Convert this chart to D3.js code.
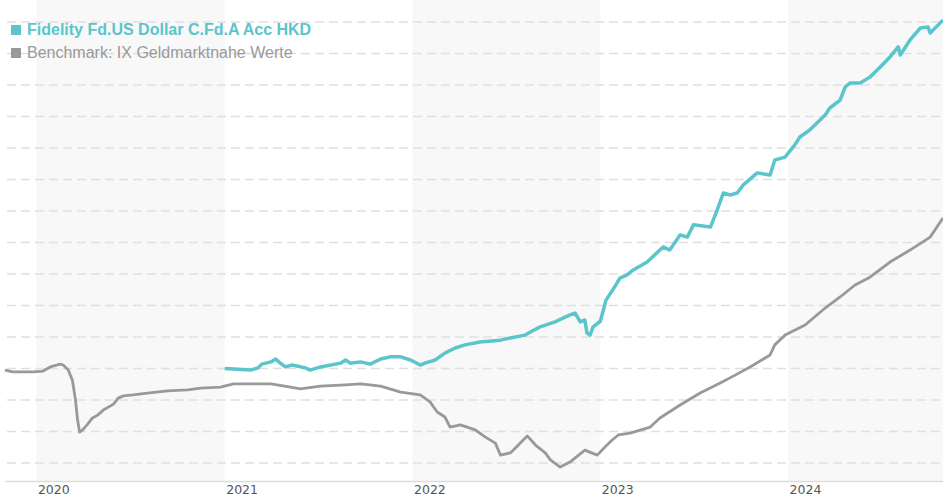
<!DOCTYPE html>
<html>
<head>
<meta charset="utf-8">
<script src="https://cdn.jsdelivr.net/npm/d3@7"></script>
<style>
  body { margin: 0; background: #fff; }
  svg { display: block; font-family: "Liberation Sans", Arial, sans-serif; }
</style>
</head>
<body>
<svg id="chart" width="943" height="500"></svg>
<script>
// series names
const fundName = "Fidelity Fd.US Dollar C.Fd.A Acc HKD";
const benchName = "Benchmark: IX Geldmarktnahe Werte";

// fund performance (grid units)
const fundDates = ["2021-01-01","2021-02-20","2021-03-07","2021-03-14","2021-04-01","2021-04-10","2021-04-19","2021-04-29","2021-05-12","2021-06-07","2021-06-16","2021-07-06","2021-08-14","2021-08-24","2021-09-02","2021-09-22","2021-10-11","2021-10-31","2021-11-19","2021-12-09","2021-12-28","2022-01-16","2022-01-25","2022-02-14","2022-03-05","2022-03-25","2022-04-13","2022-05-12","2022-06-21","2022-07-10","2022-08-08","2022-08-18","2022-09-06","2022-10-05","2022-11-03","2022-11-13","2022-11-23","2022-12-02","2022-12-06","2022-12-12","2022-12-18","2023-01-01","2023-01-12","2023-01-25","2023-02-08","2023-02-22","2023-03-06","2023-04-02","2023-05-03","2023-05-16","2023-06-05","2023-06-19","2023-07-01","2023-08-03","2023-08-16","2023-08-28","2023-09-10","2023-09-24","2023-10-06","2023-11-02","2023-11-27","2023-12-06","2023-12-26","2024-01-14","2024-01-24","2024-02-12","2024-03-13","2024-03-22","2024-04-11","2024-04-21","2024-04-30","2024-05-20","2024-06-08","2024-06-28","2024-07-17","2024-08-02","2024-08-06","2024-08-25","2024-09-14","2024-09-29","2024-10-03","2024-10-28"];
const fundValues = [0.00,-0.05,0.02,0.14,0.21,0.30,0.17,0.05,0.11,0.02,-0.05,0.05,0.17,0.27,0.17,0.21,0.14,0.30,0.37,0.37,0.27,0.11,0.17,0.27,0.49,0.65,0.75,0.84,0.90,0.97,1.06,1.16,1.32,1.48,1.70,1.76,1.48,1.54,1.13,1.06,1.32,1.50,2.17,2.49,2.87,2.97,3.13,3.38,3.86,3.76,4.24,4.17,4.56,4.49,5.03,5.57,5.51,5.57,5.83,6.21,6.14,6.62,6.71,7.10,7.35,7.57,8.05,8.27,8.52,8.94,9.06,9.06,9.25,9.57,9.89,10.21,9.95,10.43,10.81,10.84,10.65,11.06];

// benchmark performance
const benchDates = ["2019-11-01","2019-11-16","2019-12-26","2020-01-14","2020-01-28","2020-02-16","2020-02-22","2020-03-03","2020-03-11","2020-03-17","2020-03-21","2020-03-25","2020-03-31","2020-04-10","2020-04-19","2020-04-29","2020-05-10","2020-05-30","2020-06-08","2020-06-18","2020-07-07","2020-08-04","2020-09-12","2020-10-21","2020-11-15","2020-12-24","2021-01-18","2021-02-20","2021-04-01","2021-05-09","2021-05-28","2021-07-06","2021-08-24","2021-09-22","2021-10-31","2021-12-09","2022-01-16","2022-02-04","2022-02-18","2022-03-05","2022-03-15","2022-04-04","2022-05-03","2022-05-22","2022-06-11","2022-06-21","2022-07-10","2022-07-20","2022-07-29","2022-08-12","2022-08-28","2022-09-16","2022-09-26","2022-10-15","2022-11-03","2022-12-02","2022-12-26","2023-01-10","2023-01-24","2023-02-05","2023-02-28","2023-04-08","2023-04-27","2023-06-05","2023-07-14","2023-08-22","2023-09-20","2023-10-19","2023-11-27","2023-12-06","2023-12-26","2024-02-03","2024-03-13","2024-04-11","2024-05-10","2024-06-08","2024-07-17","2024-08-25","2024-10-03","2024-10-28"];
const benchValues = [-0.05,-0.11,-0.11,-0.08,0.05,0.14,0.11,-0.05,-0.37,-1.00,-1.63,-2.02,-1.95,-1.76,-1.57,-1.48,-1.32,-1.13,-0.94,-0.87,-0.84,-0.78,-0.71,-0.68,-0.62,-0.59,-0.49,-0.49,-0.49,-0.59,-0.65,-0.56,-0.52,-0.49,-0.56,-0.75,-0.84,-1.06,-1.38,-1.54,-1.86,-1.79,-1.95,-2.17,-2.37,-2.75,-2.68,-2.52,-2.37,-2.14,-2.43,-2.68,-2.90,-3.13,-2.97,-2.59,-2.75,-2.49,-2.27,-2.11,-2.05,-1.86,-1.57,-1.16,-0.78,-0.46,-0.21,0.05,0.43,0.75,1.06,1.38,1.92,2.27,2.65,2.90,3.38,3.76,4.17,4.78];

// horizontal grid values
const gridValues = [-3,-2,-1,0,1,2,3,4,5,6,7,8,9,10,11];

const parse = d3.timeParse("%Y-%m-%d");
const fund = fundDates.map((d, i) => ({ date: parse(d), value: fundValues[i] }));
const bench = benchDates.map((d, i) => ({ date: parse(d), value: benchValues[i] }));

const left = 5, right = 943, axisY = 481;

const svg = d3.select("#chart");

const x = d3.scaleTime()
  .domain([parse("2019-11-01"), parse("2024-10-28")])
  .range([left, right]);

const y = d3.scaleLinear()
  .domain([-3, 11])
  .range([463, 22]);

// alternating year bands
const years = d3.timeYear.range(parse("2020-01-01"), parse("2025-01-01"));
svg.append("g")
  .selectAll("rect")
  .data(years.filter((d, i) => i % 2 === 0))
  .enter()
  .append("rect")
  .attr("x", d => x(d))
  .attr("y", 0)
  .attr("width", d => Math.min(x(d3.timeYear.offset(d, 1)), right) - x(d))
  .attr("height", axisY)
  .attr("fill", "#f8f8f8");

// dashed grid
svg.append("g")
  .selectAll("line")
  .data(gridValues)
  .enter()
  .append("line")
  .attr("x1", 7)
  .attr("x2", right)
  .attr("y1", d => y(d))
  .attr("y2", d => y(d))
  .attr("stroke", "#e0e0e0")
  .attr("stroke-width", 1.5)
  .attr("stroke-dasharray", "9,5");

// x axis
const xAxis = svg.append("g")
  .attr("transform", `translate(0,${axisY})`)
  .call(d3.axisBottom(x)
    .ticks(d3.timeYear.every(1))
    .tickFormat(d3.timeFormat("%Y"))
    .tickSize(0));

xAxis.select(".domain").attr("stroke", "#dddddd").attr("stroke-width", 1.5);
xAxis.selectAll("text")
  .attr("text-anchor", "start")
  .attr("x", 1)
  .attr("y", 13)
  .attr("dy", 0)
  .style("font-family", "'DejaVu Sans', sans-serif")
  .style("font-size", "12.5px")
  .attr("fill", "#555");

// lines
const line = d3.line()
  .x(d => x(d.date))
  .y(d => y(d.value));

svg.append("path")
  .datum(bench)
  .attr("fill", "none")
  .attr("stroke", "#999999")
  .attr("stroke-width", 2.8)
  .attr("stroke-linejoin", "round")
  .attr("d", line);

svg.append("path")
  .datum(fund)
  .attr("fill", "none")
  .attr("stroke", "#5bc5cc")
  .attr("stroke-width", 3.5)
  .attr("stroke-linejoin", "round")
  .attr("d", line);

// legend
const legend = svg.append("g");
const legendItems = [
  { name: fundName, color: "#5bc5cc", weight: "bold", y: 35 },
  { name: benchName, color: "#999999", weight: "normal", y: 58 }
];

legendItems.forEach(item => {
  legend.append("rect")
    .attr("x", 11)
    .attr("y", item.y - 10)
    .attr("width", 10)
    .attr("height", 10)
    .attr("fill", item.color);
  legend.append("text")
    .attr("x", 27)
    .attr("y", item.y)
    .attr("fill", item.color)
    .style("font-size", "16px")
    .style("font-weight", item.weight)
    .text(item.name);
});
</script>
</body>
</html>
